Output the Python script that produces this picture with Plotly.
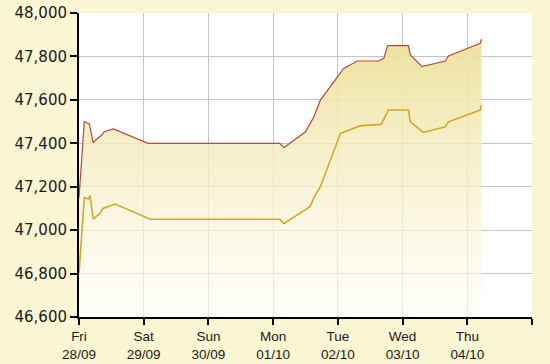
import plotly.graph_objects as go

# x positions in days from Fri 28/09 (0) to Thu 04/10 (6)
tick_days = [0, 1, 2, 3, 4, 5, 6, 7]
tick_labels = ["Fri<br>28/09", "Sat<br>29/09", "Sun<br>30/09", "Mon<br>01/10",
               "Tue<br>02/10", "Wed<br>03/10", "Thu<br>04/10", ""]

sell_x = [0, 0.082, 0.16, 0.22, 0.26, 0.35, 0.39, 0.53, 1.07, 3.1, 3.17, 3.4, 3.5,
          3.63, 3.73, 4.09, 4.3, 4.63, 4.71, 4.77, 5.09, 5.12, 5.3, 5.66, 5.71, 6.2, 6.22]
sell_y = [47150, 47500, 47489, 47403, 47415, 47438, 47453, 47466, 47400, 47400, 47381,
          47430, 47453, 47522, 47599, 47745, 47779, 47779, 47791, 47850, 47850, 47807,
          47753, 47779, 47802, 47860, 47879]

buy_x = [0, 0.082, 0.145, 0.17, 0.22, 0.32, 0.37, 0.56, 1.1, 3.1, 3.17, 3.57, 3.65,
         3.73, 4.04, 4.11, 4.34, 4.67, 4.78, 5.09, 5.12, 5.32, 5.66, 5.71, 6.2, 6.22]
buy_y = [46800, 47150, 47143, 47159, 47051, 47077, 47100, 47120, 47050, 47050, 47031,
         47108, 47162, 47200, 47446, 47453, 47480, 47487, 47553, 47553, 47499, 47450,
         47476, 47499, 47553, 47576]

y_ticks = [46600, 46800, 47000, 47200, 47400, 47600, 47800, 48000]

fig = go.Figure()
fig.add_trace(go.Scatter(
    x=sell_x, y=sell_y, mode="lines",
    line=dict(color="#B5483D", width=1.2),
    fill="tozeroy",
    fillgradient=dict(type="vertical", start=46600, stop=47900,
                      colorscale=[[0, "rgba(255,254,245,0.6)"],
                                  [1, "rgba(236,224,152,0.95)"]]),
    hoverinfo="skip", showlegend=False))
fig.add_trace(go.Scatter(
    x=buy_x, y=buy_y, mode="lines",
    line=dict(color="#D2A733", width=1.6),
    hoverinfo="skip", showlegend=False))

fig.update_layout(
    width=550, height=364,
    margin=dict(l=79, r=18, t=13, b=47),
    paper_bgcolor="#FAF5D2",
    plot_bgcolor="#FFFFFF",
    font=dict(family="DejaVu Sans", color="#1A1A1A"),
    xaxis=dict(range=[0, 7], tickvals=tick_days, ticktext=tick_labels,
               automargin=False,
               showgrid=True, gridcolor="#C4C4C4", gridwidth=1,
               showline=True, linecolor="#000000", linewidth=2,
               ticks="outside", ticklen=6, tickcolor="#000000", tickwidth=2,
               tickfont=dict(size=13.5, family="Liberation Sans"), zeroline=False),
    yaxis=dict(range=[46600, 48000], tickvals=y_ticks,
               ticktext=[f"{v:,}" for v in y_ticks],
               automargin=False,
               showgrid=True, gridcolor="#C4C4C4", gridwidth=1,
               showline=True, linecolor="#000000", linewidth=2,
               ticks="outside", ticklen=7, tickcolor="#000000", tickwidth=2,
               tickfont=dict(size=15), zeroline=False),
)

fig.write_html("out.html")
